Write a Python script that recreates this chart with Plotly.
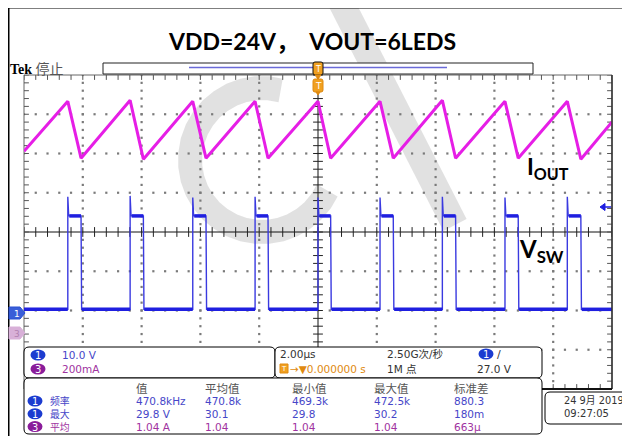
import math
import plotly.graph_objects as go

# ---------------- data ----------------
# switching edges, time in microseconds relative to trigger
rise_us = [-8.51, -6.39, -4.26, -2.14, 0.00, 2.11, 4.23, 6.36, 8.48]
fall_us = [-8.06, -5.94, -3.81, -1.70, 0.43, 2.56, 4.68, 6.81, 8.94]
# LED current (CH3), amps
iout_peak_a = [1.180, 1.185, 1.180, 1.180, 1.180, 1.180, 1.185, 1.180, 1.180]
iout_valley_a = [0.890, 0.885, 0.890, 0.890, 0.890, 0.890, 0.890, 0.890, 0.885]
iout_start_a = 0.925
iout_end_a = 1.075
# switch node (CH1), volts
vsw_low_v = 0.9
vsw_high_v = 24.7
vsw_spike_v = [29.6, 29.8, 29.4, 29.6, 29.4, 29.4, 29.6, 29.4, 29.6]
t_start_us, t_end_us = -10.0, 10.0

# scope settings
ch1_v_per_div = 10.0
ch3_a_per_div = 0.2
ch1_offset_div = -2.06
ch3_offset_div = -2.57

# readout texts
meas_headers = ["值", "平均值", "最小值", "最大值", "标准差"]
meas_rows = [
    ("1", "频率", ["470.8kHz", "470.8k", "469.3k", "472.5k", "880.3"]),
    ("1", "最大", ["29.8 V", "30.1", "29.8", "30.2", "180m"]),
    ("3", "平均", ["1.04 A", "1.04", "1.04", "1.04", "663µ"]),
]

# ---------------- geometry helpers (reference-pixel coordinates) ----------------
PAGE_OFF = 8          # browser body margin
W, H = 630 - PAGE_OFF, 436 - PAGE_OFF
GL, GR, GT, GB = 24, 612, 75, 389


def X(px):
    return (px - GL) / (GR - GL)


def Y(py):
    return (GB - py) / (GB - GT)


BLUE = "#1f1fe0"
MAG = "#e61ee6"
TXT_BLUE = "#4646c8"
TXT_PURP = "#a033a0"

# ---------------- traces ----------------
cur_t = [t_start_us]
cur_a = [iout_start_a]
for r, f, pk, vl in zip(rise_us, fall_us, iout_peak_a, iout_valley_a):
    cur_t += [r, f]
    cur_a += [pk, vl]
cur_t.append(t_end_us)
cur_a.append(iout_end_a)

v_t, v_v = [t_start_us], [vsw_low_v]
for r, f, sp in zip(rise_us, fall_us, vsw_spike_v):
    v_t += [r, r, r + 0.03, f, f + 0.02]
    v_v += [vsw_low_v, sp, vsw_high_v, vsw_high_v, vsw_low_v]
v_t.append(t_end_us)
v_v.append(vsw_low_v)

lvl_t, lvl_v = [], []
prev = t_start_us
for r, f in zip(rise_us, fall_us):
    lvl_t += [prev, r, None, r + 0.05, f, None]
    lvl_v += [vsw_low_v, vsw_low_v, None, vsw_high_v, vsw_high_v, None]
    prev = f + 0.03
lvl_t += [prev, t_end_us]
lvl_v += [vsw_low_v, vsw_low_v]

fig = go.Figure()

# graticule dots
minor_x = [t_start_us + 0.4 * i for i in range(51)]
minor_y = [-4 + 0.2 * i for i in range(41)]
gx, gy = [], []
for yy in [-3, -2, -1, 1, 2, 3]:
    for xx in minor_x:
        gx.append(xx)
        gy.append(yy)
for xx in [-8, -6, -4, -2, 2, 4, 6, 8]:
    for yy in minor_y:
        gx.append(xx)
        gy.append(yy)
fig.add_trace(go.Scatter(x=gx, y=gy, mode="markers",
                         marker=dict(symbol="square", size=2.2, color="#7a7a7a", line=dict(width=0)),
                         hoverinfo="skip", showlegend=False))
# graticule ticks (center cross + border)
fig.add_trace(go.Scatter(x=minor_x, y=[0] * len(minor_x), mode="markers",
                         marker=dict(symbol="line-ns", size=7, line=dict(width=1, color="#222")),
                         hoverinfo="skip", showlegend=False))
fig.add_trace(go.Scatter(x=[0] * len(minor_y), y=minor_y, mode="markers",
                         marker=dict(symbol="line-ew", size=7, line=dict(width=1, color="#222")),
                         hoverinfo="skip", showlegend=False))
fig.add_trace(go.Scatter(x=minor_x + minor_x, y=[4] * len(minor_x) + [-4] * len(minor_x), mode="markers",
                         marker=dict(symbol="line-ns", size=7, line=dict(width=1, color="#555")),
                         hoverinfo="skip", showlegend=False))
fig.add_trace(go.Scatter(x=[-10] * len(minor_y) + [10] * len(minor_y), y=minor_y + minor_y, mode="markers",
                         marker=dict(symbol="line-ew", size=7, line=dict(width=1, color="#555")),
                         hoverinfo="skip", showlegend=False))

fig.add_trace(go.Scatter(x=cur_t, y=cur_a, mode="lines", yaxis="y3",
                         line=dict(color=MAG, width=3.0), hoverinfo="skip", showlegend=False))
fig.add_trace(go.Scatter(x=v_t, y=v_v, mode="lines", yaxis="y2",
                         line=dict(color="#3a3ae0", width=1.4), hoverinfo="skip", showlegend=False))
fig.add_trace(go.Scatter(x=lvl_t, y=lvl_v, mode="lines", yaxis="y2",
                         line=dict(color=BLUE, width=3.5), hoverinfo="skip", showlegend=False))

# ---------------- shapes ----------------
shapes = []


def line_px(x0, y0, x1, y1, color, width=1, layer="above"):
    shapes.append(dict(type="line", xref="paper", yref="paper", x0=X(x0), y0=Y(y0), x1=X(x1), y1=Y(y1),
                       line=dict(color=color, width=width), layer=layer))


def rect_px(x0, y0, x1, y1, line="#000", fill="white", width=1, layer="above"):
    shapes.append(dict(type="rect", xref="paper", yref="paper", x0=X(x0), y0=Y(y0), x1=X(x1), y1=Y(y1),
                       line=dict(color=line, width=width), fillcolor=fill, layer=layer))


def rrect_px(x0, y0, x1, y1, r=5, line="#000", fill="white", width=1, layer="above"):
    p = [f"M{X(x0 + r)},{Y(y0)}", f"L{X(x1 - r)},{Y(y0)}",
         f"Q{X(x1)},{Y(y0)} {X(x1)},{Y(y0 + r)}", f"L{X(x1)},{Y(y1 - r)}",
         f"Q{X(x1)},{Y(y1)} {X(x1 - r)},{Y(y1)}", f"L{X(x0 + r)},{Y(y1)}",
         f"Q{X(x0)},{Y(y1)} {X(x0)},{Y(y1 - r)}", f"L{X(x0)},{Y(y0 + r)}",
         f"Q{X(x0)},{Y(y0)} {X(x0 + r)},{Y(y0)} Z"]
    shapes.append(dict(type="path", xref="paper", yref="paper", path=" ".join(p),
                       line=dict(color=line, width=width), fillcolor=fill, layer=layer))


def path_px(pts, color, fill=None, width=1, layer="above", close=True):
    s = "M" + " L".join(f"{X(a)},{Y(b)}" for a, b in pts) + (" Z" if close else "")
    shapes.append(dict(type="path", xref="paper", yref="paper", path=s,
                       line=dict(color=color, width=width),
                       fillcolor=fill if fill else "rgba(0,0,0,0)", layer=layer))


def pill_px(cx, cy, w, h, color, layer="above"):
    shapes.append(dict(type="circle", xref="paper", yref="paper", x0=X(cx - w / 2), x1=X(cx + w / 2),
                       y0=Y(cy + h / 2), y1=Y(cy - h / 2), fillcolor=color, line=dict(color=color, width=0),
                       layer=layer))


# watermark (light gray strokes)
WM = "rgba(205,205,205,0.6)"
wm_c = []
for k in range(0, 27):
    a = math.radians(75 + k * 10)
    wm_c.append((262 + 72 * math.cos(a), 160 - 72 * math.sin(a)))
path_px(wm_c, WM, width=24, layer="below", close=False)
path_px([(340, 0), (455, 225)], WM, width=26, layer="below", close=False)

# center cross and border
line_px(GL, 232, GR, 232, "#111", 1, layer="between")
line_px(318, GT, 318, GB, "#111", 1, layer="between")
rect_px(GL, GT, GR, GB, line="#666", fill="rgba(0,0,0,0)", width=1, layer="between")
line_px(GR, GT, GR, GB, "#333", 1.5)
line_px(GL, GB, GR, GB, "#111", 2)

# outer document frame
line_px(8.5, 7, 8.5, 436, "#000", 2)
line_px(8, 7.5, 630, 7.5, "#000", 2)

# record bar
rect_px(103, 63, 533, 74, line="#222", fill="white", width=1)
line_px(189, 67.5, 447, 67.5, "#6a6ad8", 1.5)
rrect_px(313, 62, 323, 75, r=2, line="#111", fill="#f0a020", width=1)
path_px([(315, 75), (321, 75), (318, 79)], "#e08a10", fill="#e08a10")
rrect_px(313, 79, 323, 92, r=2, line="#e08a10", fill="#f0a020", width=1)
path_px([(316, 92), (320, 92), (318, 95)], "#e08a10", fill="#e08a10")

# channel ground markers
path_px([(9, 307), (20, 307), (25, 313), (20, 319), (9, 319)], "#2a50d0", fill="#3a5ed8")
path_px([(9, 327), (20, 327), (25, 333), (20, 339), (9, 339)], "#d8b0d8", fill="#d8b0d8")
# trigger level marker (right edge)
path_px([(600, 207), (605, 203.5), (605, 210.5)], BLUE, fill=BLUE)
line_px(604, 207, 611, 207, BLUE, 1.5)

# readout panels
rrect_px(24, 347, 275, 378, r=5)
rrect_px(275, 347, 542, 378, r=5)
rrect_px(24, 378, 542, 434, r=5)
rrect_px(545, 392, 628, 424, r=5)

pill_px(38, 355, 15, 11, "#1c3cd0")
pill_px(38, 369, 15, 11, "#8a1c9a")
pill_px(486, 354, 15, 11, "#1c3cd0")
for i, (ch, _, _) in enumerate(meas_rows):
    pill_px(35, 401 + i * 12.8, 15, 11, "#1c3cd0" if ch == "1" else "#8a1c9a")
rect_px(280, 364, 288, 373, line="#e08a10", fill="#f0a020")

# ---------------- annotations ----------------
ann = []


def text_px(x, y, s, size=11, color="#222", anchor="left", family="DejaVu Sans", vanchor="middle"):
    ann.append(dict(x=X(x), y=Y(y), xref="paper", yref="paper", text=s, showarrow=False,
                    xanchor=anchor, yanchor=vanchor, borderpad=0,
                    font=dict(size=size, color=color, family=family)))


text_px(312, 41, "<b>VDD=24V，  VOUT=6LEDS</b>", size=23, color="#000",
        anchor="center", family="Lato, Noto Sans CJK SC")
text_px(9, 69, "<b>Tek</b> <span style='color:#555'>停止</span>", size=14, color="#000",
        family="Liberation Serif, Noto Sans CJK SC")
text_px(526, 167, "<b>I<sub>OUT</sub></b>", size=23, color="#000", family="Lato")
text_px(518, 250, "<b>V<sub>SW</sub></b>", size=24, color="#000", family="Lato")

text_px(38, 355.5, "1", size=10, color="white", anchor="center")
text_px(38, 369.5, "3", size=10, color="white", anchor="center")
text_px(486, 354.5, "1", size=10, color="white", anchor="center")
text_px(318, 69, "T", size=8, color="#fff", anchor="center")
text_px(318, 86, "T", size=9, color="#fff", anchor="center")
text_px(17, 313.5, "1", size=9, color="white", anchor="center")
text_px(17, 333.5, "3", size=9, color="#b080b0", anchor="center")
text_px(284, 369, "T", size=7, color="white", anchor="center")

text_px(61, 355, "10.0 V", size=10.5, color=TXT_BLUE)
text_px(61, 369, "200mA", size=10.5, color=TXT_PURP)
text_px(279, 354, "2.00µs", size=10.5, color="#333")
text_px(289, 369, "→▼0.000000 s", size=10.5, color="#e08a10")
text_px(386, 354, "2.50G次/秒", size=10.5, color="#333", family="DejaVu Sans, Noto Sans CJK SC")
text_px(386, 369, "1M 点", size=10.5, color="#333", family="DejaVu Sans, Noto Sans CJK SC")
text_px(496, 354, "/", size=11, color="#333")
text_px(513, 369, "27.0 V", size=10.5, color="#333", anchor="right")

col_x = [135, 204, 291, 373, 453]
for cx, h in zip(col_x, meas_headers):
    text_px(cx, 388, h, size=11.5, color="#555", family="Noto Sans CJK SC")

# row labels as one multi-line block (line pitch ~12.8 px)
lab_lines = []
dig_lines = []
for ch, lab, vals in meas_rows:
    col = TXT_BLUE if ch == "1" else TXT_PURP
    lab_lines.append(f"<span style='color:{col}'>{lab}</span>")
    dig_lines.append(ch)
text_px(49, 413.8, "<br>".join(lab_lines), size=9.85, color=TXT_BLUE, family="Noto Sans CJK SC")
text_px(35, 414.3, "<br>".join(dig_lines), size=9.85, color="white", anchor="center")

for i, (ch, lab, vals) in enumerate(meas_rows):
    yy = 401 + i * 12.8
    col = TXT_BLUE if ch == "1" else TXT_PURP
    for cx, v in zip(col_x, vals):
        text_px(cx, yy, v, size=10.5, color=col)

text_px(563, 400, "24 9月 2019", size=9.8, color="#333", family="DejaVu Sans, Noto Sans CJK SC")
text_px(563, 413, "09:27:05", size=10, color="#333")

# ---------------- layout ----------------
fig.update_layout(
    width=W, height=H,
    margin=dict(l=GL - PAGE_OFF, r=630 - GR, t=GT - PAGE_OFF, b=436 - GB, pad=0),
    paper_bgcolor="white", plot_bgcolor="rgba(0,0,0,0)",
    showlegend=False,
    xaxis=dict(range=[t_start_us, t_end_us], showgrid=False, zeroline=False, showticklabels=False,
               ticks="", showline=False, fixedrange=True),
    yaxis=dict(range=[-4, 4], showgrid=False, zeroline=False, showticklabels=False,
               ticks="", showline=False, fixedrange=True),
    yaxis2=dict(range=[(-4 - ch1_offset_div) * ch1_v_per_div, (4 - ch1_offset_div) * ch1_v_per_div],
                overlaying="y", visible=False),
    yaxis3=dict(range=[(-4 - ch3_offset_div) * ch3_a_per_div, (4 - ch3_offset_div) * ch3_a_per_div],
                overlaying="y", visible=False),
    shapes=shapes, annotations=ann,
)

fig.write_html("out.html")
